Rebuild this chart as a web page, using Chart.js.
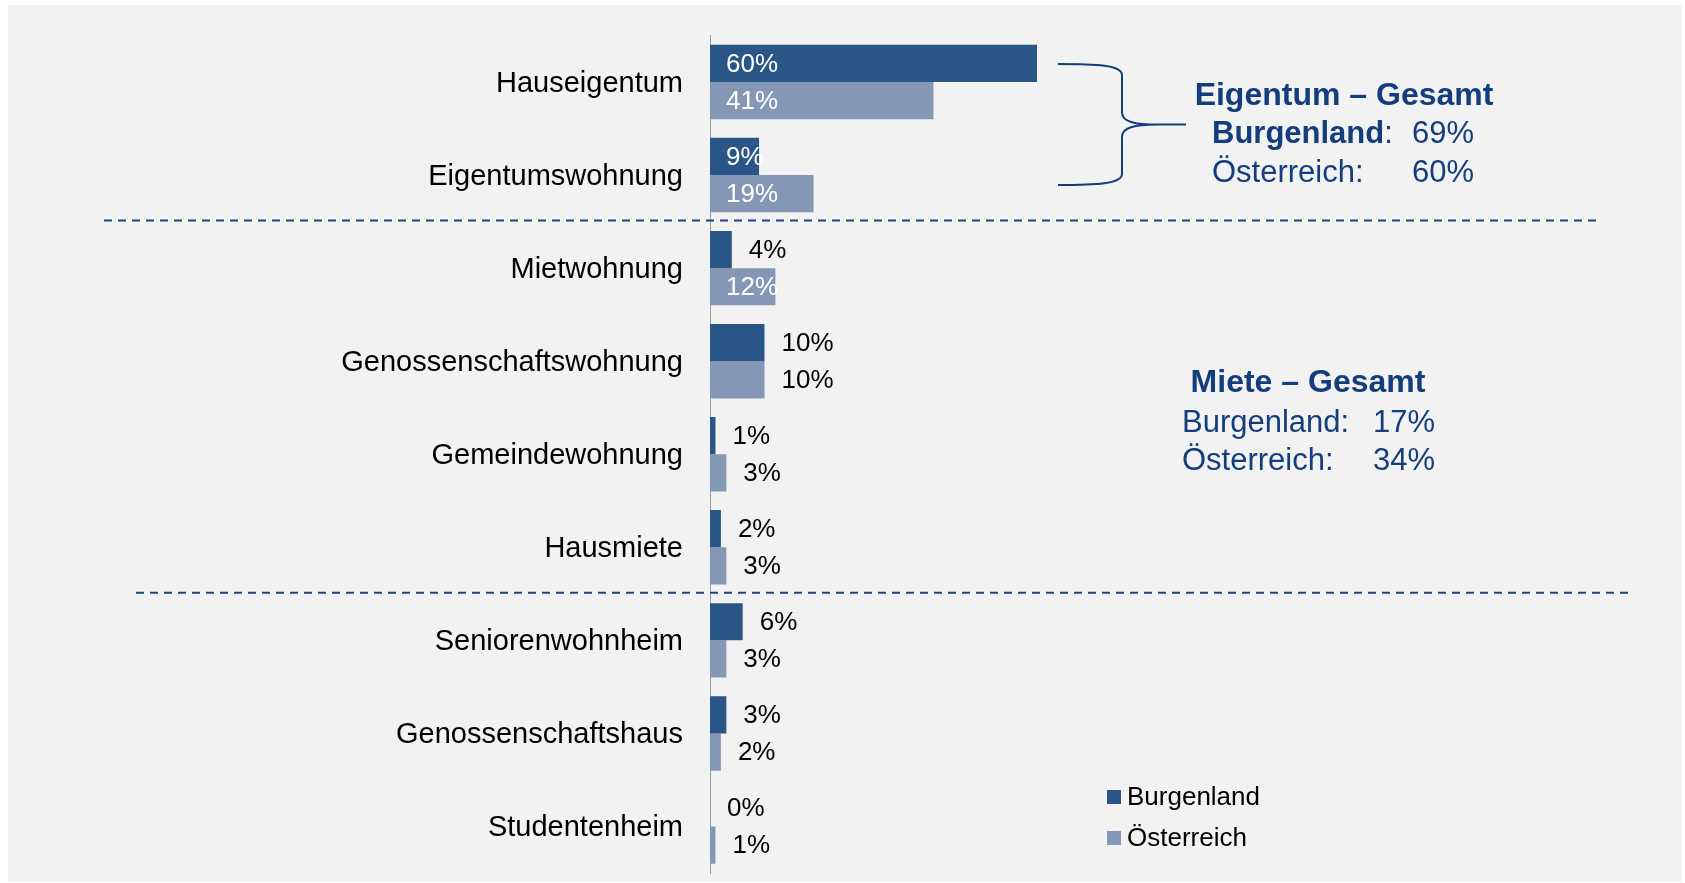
<!DOCTYPE html>
<html lang="de">
<head>
<meta charset="utf-8">
<title>Wohnform Burgenland / Österreich</title>
<script src="https://cdn.jsdelivr.net/npm/chart.js@4.4.0/dist/chart.umd.min.js"></script>
<style>
  html, body { margin: 0; padding: 0; background: #ffffff; }
  #wrap { position: absolute; left: 8px; top: 5px; width: 1674px; height: 877px; background: #f2f2f2; }
  #wrap canvas { display: block; }
</style>
</head>
<body>
<div id="wrap"><canvas id="wohnChart"></canvas></div>
<script>
// Daten
const categories = ['Hauseigentum', 'Eigentumswohnung', 'Mietwohnung', 'Genossenschaftswohnung',
    'Gemeindewohnung', 'Hausmiete', 'Seniorenwohnheim', 'Genossenschaftshaus', 'Studentenheim'];
const seriesNames = ['Burgenland', 'Österreich'];
const burgenland = [60, 9, 4, 10, 1, 2, 6, 3, 0];
const oesterreich = [41, 19, 12, 10, 3, 3, 3, 2, 1];
// which value labels sit inside the bar (white) instead of after its end
const burgenlandInside = [true, true, false, false, false, false, false, false, false];
const oesterreichInside = [true, true, true, false, false, false, false, false, false];
// totals shown in the side notes: [Burgenland, Österreich]
const eigentumGesamt = [69, 60];
const mieteGesamt = [17, 34];

document.addEventListener('DOMContentLoaded', function() {
    const FONT = '"Liberation Sans", Arial, Helvetica, sans-serif';
    const DARK = '#2a5587';
    const LIGHT = '#8498b6';
    const NOTE = '#133d7c';
    const DASH = '#1b4580';

    // value labels, separators, brace, notes and legend
    const overlayPlugin = {
        id: 'overlay',
        afterDraw(chart) {
            const ctx = chart.ctx;
            const x = chart.scales.x;
            const y = chart.scales.y;
            const zero = x.getPixelForValue(0);
            const insideFlags = [burgenlandInside, oesterreichInside];

            ctx.save();

            // value labels
            ctx.font = '26px ' + FONT;
            ctx.textBaseline = 'middle';
            ctx.textAlign = 'left';
            chart.data.datasets.forEach(function(ds, di) {
                const meta = chart.getDatasetMeta(di);
                meta.data.forEach(function(bar, i) {
                    const inside = insideFlags[di][i];
                    ctx.fillStyle = inside ? '#ffffff' : '#000000';
                    const lx = inside ? zero + 16 : bar.x + 17;
                    ctx.fillText(ds.data[i] + '%', lx, bar.y + 1);
                });
            });

            // dashed group separators
            const sep1 = (y.getPixelForValue(1) + y.getPixelForValue(2)) / 2 - 1;
            const sep2 = (y.getPixelForValue(5) + y.getPixelForValue(6)) / 2 - 1;
            ctx.strokeStyle = DASH;
            ctx.lineWidth = 2;
            ctx.setLineDash([8, 6]);
            ctx.beginPath();
            ctx.moveTo(96, sep1);
            ctx.lineTo(1590, sep1);
            ctx.moveTo(128, sep2);
            ctx.lineTo(1620, sep2);
            ctx.stroke();
            ctx.setLineDash([]);

            // curly brace next to the ownership rows
            const top = y.getPixelForValue(0) - 18;
            const bottom = y.getPixelForValue(1) + 10;
            const mid = (top + bottom) / 2;
            const bx = 1114;
            ctx.strokeStyle = NOTE;
            ctx.lineWidth = 2;
            ctx.beginPath();
            ctx.moveTo(1050, top);
            ctx.bezierCurveTo(1088, top, bx, top + 1, bx, top + 11);
            ctx.lineTo(bx, mid - 12);
            ctx.bezierCurveTo(bx, mid - 3, bx + 12, mid, bx + 36, mid);
            ctx.lineTo(1178, mid);
            ctx.moveTo(bx + 36, mid);
            ctx.bezierCurveTo(bx + 12, mid, bx, mid + 3, bx, mid + 12);
            ctx.lineTo(bx, bottom - 11);
            ctx.bezierCurveTo(bx, bottom - 1, 1088, bottom, 1050, bottom);
            ctx.stroke();

            // side notes
            ctx.fillStyle = NOTE;
            ctx.textBaseline = 'alphabetic';
            ctx.textAlign = 'center';
            ctx.font = 'bold 32px ' + FONT;
            ctx.fillText('Eigentum – Gesamt', 1336, 100);
            ctx.fillText('Miete – Gesamt', 1300, 387);

            ctx.textAlign = 'left';
            ctx.font = 'bold 31px ' + FONT;
            ctx.fillText(seriesNames[0], 1204, 138);
            const bw = ctx.measureText(seriesNames[0]).width;
            ctx.font = '31px ' + FONT;
            ctx.fillText(':', 1204 + bw, 138);
            ctx.fillText(eigentumGesamt[0] + '%', 1404, 138);
            ctx.fillText(seriesNames[1] + ':', 1204, 177);
            ctx.fillText(eigentumGesamt[1] + '%', 1404, 177);

            ctx.fillText(seriesNames[0] + ':', 1174, 427);
            ctx.fillText(mieteGesamt[0] + '%', 1365, 427);
            ctx.fillText(seriesNames[1] + ':', 1174, 465);
            ctx.fillText(mieteGesamt[1] + '%', 1365, 465);

            // legend
            ctx.font = '26px ' + FONT;
            ctx.textBaseline = 'middle';
            chart.data.datasets.forEach(function(ds, di) {
                const cy = 792 + di * 41;
                ctx.fillStyle = ds.backgroundColor;
                ctx.fillRect(1099, cy - 7, 14, 14);
                ctx.fillStyle = '#000000';
                ctx.fillText(ds.label, 1119, cy + 1);
            });

            ctx.restore();
        }
    };

    const ctx = document.getElementById('wohnChart').getContext('2d');
    new Chart(ctx, {
        type: 'bar',
        data: {
            labels: categories,
            datasets: [{
                label: seriesNames[0],
                data: burgenland,
                backgroundColor: DARK,
                categoryPercentage: 0.8,
                barPercentage: 1.0
            }, {
                label: seriesNames[1],
                data: oesterreich,
                backgroundColor: LIGHT,
                categoryPercentage: 0.8,
                barPercentage: 1.0
            }]
        },
        options: {
            indexAxis: 'y',
            responsive: true,
            maintainAspectRatio: false,
            animation: false,
            layout: {
                padding: { left: 0, top: 30.5, right: 427, bottom: 9 }
            },
            scales: {
                x: {
                    display: false,
                    min: 0,
                    max: 100
                },
                y: {
                    grid: { display: false, drawTicks: false },
                    border: { display: true, color: '#9c9c9c', width: 1 },
                    ticks: {
                        color: '#000000',
                        padding: 27,
                        labelOffset: 2,
                        font: { family: FONT, size: 29 }
                    },
                    afterFit: function(scale) {
                        // fixed axis position, no extra vertical padding from labels
                        scale.width = 702;
                        scale.paddingTop = 0;
                        scale.paddingBottom = 0;
                    }
                }
            },
            plugins: {
                legend: { display: false },
                tooltip: { enabled: false }
            }
        },
        plugins: [overlayPlugin]
    });
});
</script>
</body>
</html>
